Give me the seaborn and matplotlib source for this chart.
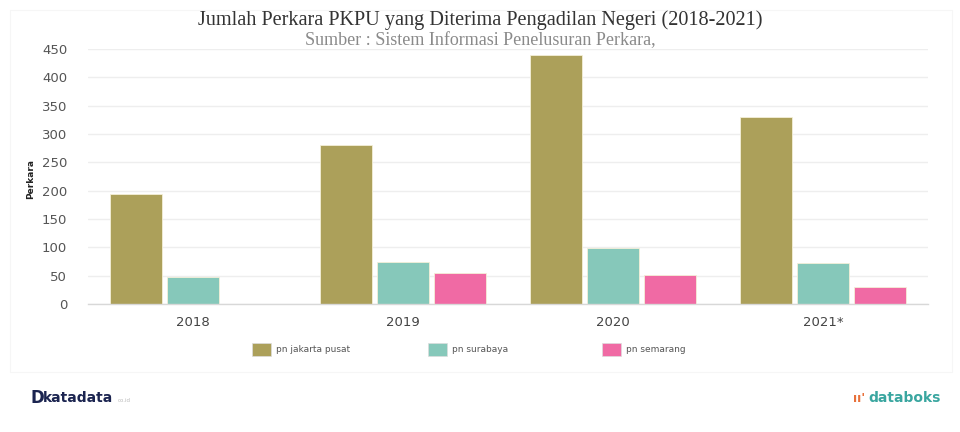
import matplotlib
matplotlib.use("Agg")
import matplotlib.pyplot as plt
import matplotlib.patches as mpatches
import seaborn as sns
import pandas as pd
import numpy as np

years = ["2018", "2019", "2020", "2021*"]
jakarta_pusat = [194, 280, 439, 330]
surabaya = [48, 75, 98, 72]
semarang = [np.nan, 55, 51, 30]
series_names = ["pn jakarta pusat", "pn surabaya", "pn semarang"]
colors = ["#ACA05A", "#86C8BA", "#F06AA4"]
yticks = [0, 50, 100, 150, 200, 250, 300, 350, 400, 450]

rows = []
for name, vals in zip(series_names, [jakarta_pusat, surabaya, semarang]):
    for y, v in zip(years, vals):
        rows.append({"year": y, "series": name, "value": v})
df = pd.DataFrame(rows)

sns.set_theme(style="white")
plt.rcParams["font.family"] = ["DejaVu Sans"]

fig = plt.figure(figsize=(9.6, 4.32), dpi=100)
ax = fig.add_axes([88/960, 1 - 304/432, 840/960, 255/432])

sns.barplot(data=df, x="year", y="value", hue="series", order=years,
            hue_order=series_names, palette=colors, width=0.815, gap=0.09,
            saturation=1, ax=ax, legend=False, errorbar=None,
            edgecolor="#f4efd8", linewidth=0.6)

ax.set_ylim(0, 450)
ax.set_xlim(-0.5, 3.5)
ax.set_yticks(yticks)
ax.set_yticklabels([str(t) for t in yticks], fontsize=9.5, color="#555555")
ax.tick_params(axis="y", length=0, pad=15)
ax.tick_params(axis="x", length=3, color="#cccccc", width=0.8, pad=6,
               labelsize=9.5, labelcolor="#444444")
ax.yaxis.grid(True, color="#eeeeee", linewidth=1)
ax.set_axisbelow(True)
for s in ["top", "right", "left"]:
    ax.spines[s].set_visible(False)
ax.spines["bottom"].set_color("#d8d8d8")
ax.spines["bottom"].set_linewidth(1)
ax.set_xlabel("")
ax.set_ylabel("Perkara", fontsize=6.5, fontweight="bold", color="#222222")
ax.yaxis.set_label_coords(-0.063, 0.49)

fig.text(0.5, 1 - 20/432, "Jumlah Perkara PKPU yang Diterima Pengadilan Negeri (2018-2021)",
         ha="center", va="center", fontsize=14.6, color="#333333",
         family=["Liberation Serif", "DejaVu Serif"])
fig.text(0.5, 1 - 41/432, "Sumber : Sistem Informasi Penelusuran Perkara,",
         ha="center", va="center", fontsize=13, color="#8a8a8a",
         family=["Liberation Serif", "DejaVu Serif"])

# legend entries
legend_x = [252, 428, 602]
for xpix, name, c in zip(legend_x, series_names, colors):
    fig.patches.append(mpatches.Rectangle((xpix/960, 1 - 356/432), 19/960, 13/432,
                                          transform=fig.transFigure, facecolor=c,
                                          edgecolor="#dddddd", linewidth=0.5))
    fig.text((xpix + 24)/960, 1 - 349.5/432, name, ha="left", va="center",
             fontsize=6.5, color="#555555")

# logos as text
fig.text(31/960, 1 - 398/432, "D", ha="left", va="center", fontsize=12,
         fontweight="bold", color="#1b2450")
fig.text(43/960, 1 - 398/432, "katadata", ha="left", va="center", fontsize=10,
         fontweight="bold", color="#1b2450")
fig.text(118/960, 1 - 400/432, "co.id", ha="left", va="center", fontsize=4,
         color="#bbbbbb")
fig.text(853/960, 1 - 398/432, "ıı'", ha="left", va="center", fontsize=9,
         fontweight="bold", color="#e8703a")
fig.text(868/960, 1 - 398/432, "databoks", ha="left", va="center", fontsize=10,
         fontweight="bold", color="#3aa6a0")

# faint frame
fig.patches.append(mpatches.Rectangle((10/960, 1 - 372/432), 942/960, 362/432,
                                      transform=fig.transFigure, facecolor="none",
                                      edgecolor="#f6f6f6", linewidth=0.8))

fig.savefig("out.png", dpi=100, facecolor="white")
